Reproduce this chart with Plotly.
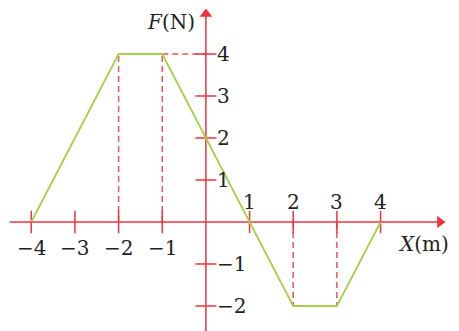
import plotly.graph_objects as go

# data
x_pts = [-4, -2, -1, 2, 3, 4]
f_pts = [0, 4, 4, -2, -2, 0]
x_ticks = [-4, -3, -2, -1, 1, 2, 3, 4]
x_tick_labels = ["−4", "−3", "−2", "−1", "1", "2", "3", "4"]
y_ticks = [-2, -1, 1, 2, 3, 4]
y_tick_labels = ["−2", "−1", "1", "2", "3", "4"]
drop_idx = [1, 2, 3, 4]

RED = "#f0323c"
DASH_RED = "#f2505a"
GREEN = "#a6d04a"
FONT = "DejaVu Serif"
FS = 20

# the page body adds an 8px offset; ranges compensate for it
X_RANGE = [-4.533, 5.980]
Y_RANGE = [-2.786, 5.095]
X_AXIS_EXT = [-4.49, 5.36]
Y_AXIS_EXT = [-2.9, 4.95]

fig = go.Figure()

# dashed drop lines
for i in drop_idx:
    fig.add_trace(go.Scatter(x=[x_pts[i], x_pts[i]], y=[0, f_pts[i]], mode="lines",
                             line=dict(color=DASH_RED, width=1.5, dash="6px,4px"),
                             hoverinfo="skip", showlegend=False))
# horizontal dashed line from (-1,4) to y-axis
fig.add_trace(go.Scatter(x=[x_pts[2], 0], y=[f_pts[2], f_pts[2]], mode="lines",
                         line=dict(color=DASH_RED, width=1.5, dash="6px,4px"),
                         hoverinfo="skip", showlegend=False))

# axes lines
fig.add_trace(go.Scatter(x=X_AXIS_EXT, y=[0, 0], mode="lines",
                         line=dict(color=RED, width=1.5), hoverinfo="skip", showlegend=False))
fig.add_trace(go.Scatter(x=[0, 0], y=Y_AXIS_EXT, mode="lines",
                         line=dict(color=RED, width=1.5), hoverinfo="skip", showlegend=False))
# arrow heads
fig.add_trace(go.Scatter(x=[X_AXIS_EXT[1]], y=[0], mode="markers",
                         marker=dict(symbol="triangle-right", size=11, color=RED),
                         hoverinfo="skip", showlegend=False))
fig.add_trace(go.Scatter(x=[0], y=[Y_AXIS_EXT[1]], mode="markers",
                         marker=dict(symbol="triangle-up", size=11, color=RED),
                         hoverinfo="skip", showlegend=False))

# tick marks
fig.add_trace(go.Scatter(x=x_ticks, y=[0] * len(x_ticks), mode="markers",
                         marker=dict(symbol="line-ns", size=16, line=dict(color=RED, width=1.5)),
                         hoverinfo="skip", showlegend=False))
fig.add_trace(go.Scatter(x=[0] * len(y_ticks), y=y_ticks, mode="markers",
                         marker=dict(symbol="line-ew", size=15, line=dict(color=RED, width=1.5)),
                         hoverinfo="skip", showlegend=False))

# main line
fig.add_trace(go.Scatter(x=x_pts, y=f_pts, mode="lines",
                         line=dict(color=GREEN, width=1.8), hoverinfo="skip", showlegend=False))

# tick labels
for v, t in zip(x_ticks, x_tick_labels):
    fig.add_annotation(x=v, y=0, text=t, showarrow=False, xanchor="center", yanchor="middle",
                       yshift=(-26 if v < 0 else 20),
                       font=dict(family=FONT, size=FS, color="#222"))
for v, t in zip(y_ticks, y_tick_labels):
    fig.add_annotation(x=0, y=v, text=t, showarrow=False, xanchor="left", yanchor="middle",
                       xshift=9, font=dict(family=FONT, size=FS, color="#222"))

# axis titles
fig.add_annotation(x=0, y=Y_AXIS_EXT[1], text="<i>F</i>(N)", showarrow=False,
                   xanchor="right", yanchor="middle", xshift=-9, yshift=-8,
                   font=dict(family=FONT, size=FS, color="#222"))
fig.add_annotation(x=X_AXIS_EXT[1], y=0, text="<i>X</i>(m)", showarrow=False,
                   xanchor="right", yanchor="middle", xshift=11, yshift=-22,
                   font=dict(family=FONT, size=FS, color="#222"))

fig.update_layout(
    width=459, height=331,
    margin=dict(l=0, r=0, t=0, b=0),
    paper_bgcolor="white", plot_bgcolor="white",
    xaxis=dict(range=X_RANGE, visible=False, fixedrange=True),
    yaxis=dict(range=Y_RANGE, visible=False, fixedrange=True),
)

fig.write_html("out.html")
